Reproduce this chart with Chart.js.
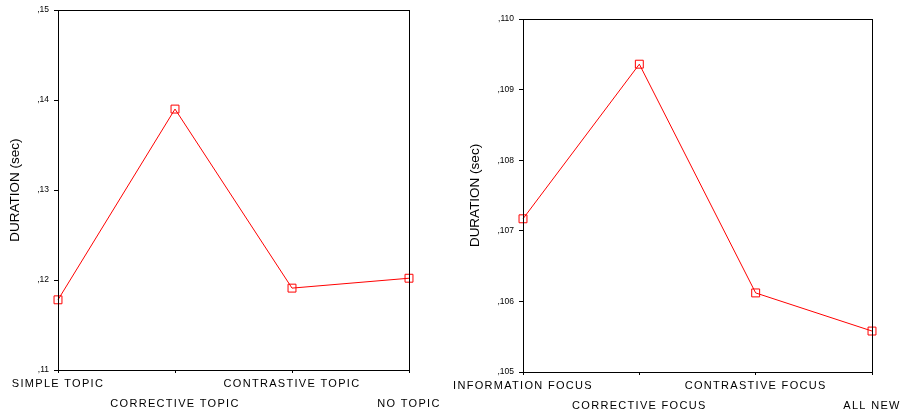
<!DOCTYPE html>
<html>
<head>
<meta charset="utf-8">
<script src="https://cdn.jsdelivr.net/npm/chart.js@4/dist/chart.umd.min.js"></script>
<style>
  html, body { margin: 0; padding: 0; background: #fff; }
  body { width: 903px; height: 417px; position: relative; overflow: hidden; }
  .panel { position: absolute; top: 0; }
</style>
</head>
<body>
<div class="panel" style="left:0px;width:450px;height:417px"><canvas id="topic" width="450" height="417"></canvas></div>
<div class="panel" style="left:450px;width:453px;height:417px"><canvas id="focus" width="453" height="417"></canvas></div>
<script>
// Topic conditions (left panel)
const topicCategories = ['SIMPLE TOPIC', 'CORRECTIVE TOPIC', 'CONTRASTIVE TOPIC', 'NO TOPIC'];
const topicDuration = [0.1178, 0.1390, 0.1191, 0.1202];
const topicTicks = { min: 0.11, max: 0.15, step: 0.01, digits: 2 };

// Focus conditions (right panel)
const focusCategories = ['INFORMATION FOCUS', 'CORRECTIVE FOCUS', 'CONTRASTIVE FOCUS', 'ALL NEW'];
const focusDuration = [0.10717, 0.10936, 0.10612, 0.10558];
const focusTicks = { min: 0.105, max: 0.110, step: 0.001, digits: 3 };

const yTitle = 'DURATION (sec)';

// Alternate category labels between two rows so long names do not collide
function staggered(labels) {
  return labels.map((l, i) => (i % 2 === 0 ? [l, ''] : ['', l]));
}

// Decimal-comma tick text without the leading zero: 0.15 -> ",15"
function commaTick(digits) {
  return v => ',' + Math.round(v * Math.pow(10, digits));
}

// Closed frame around the plotting area
const frame = {
  id: 'frame',
  afterDatasetsDraw(chart) {
    const { ctx, chartArea: a } = chart;
    ctx.save();
    ctx.strokeStyle = '#000';
    ctx.lineWidth = 1;
    ctx.strokeRect(Math.round(a.left) + 0.5, Math.round(a.top) + 0.5,
                   Math.round(a.right - a.left), Math.round(a.bottom - a.top));
    ctx.restore();
  }
};

// Wider letter spacing for the category labels only
const spacedLabels = {
  id: 'spacedLabels',
  afterLayout(chart) {
    const s = chart.scales.x;
    if (s && !s._spaced) {
      const orig = s.drawLabels.bind(s);
      s.drawLabels = function (area) {
        chart.ctx.save();
        chart.ctx.letterSpacing = '1.3px';
        orig(area);
        chart.ctx.restore();
      };
      s._spaced = true;
    }
  }
};

function makeChart(id, cats, values, t, geom) {
  return new Chart(document.getElementById(id), {
    type: 'line',
    data: {
      labels: staggered(cats),
      datasets: [{
        data: values,
        borderColor: '#ff0000',
        borderWidth: 1,
        pointStyle: 'rect',
        pointRadius: 5.6,
        pointBorderWidth: 1,
        pointBorderColor: '#ff0000',
        pointBackgroundColor: 'rgba(0,0,0,0)',
        pointHoverRadius: 5.6,
        tension: 0,
        clip: false
      }]
    },
    options: {
      responsive: false,
      animation: false,
      devicePixelRatio: 1,
      events: [],
      layout: { padding: { top: geom.top, right: geom.right, left: 0, bottom: 0 } },
      plugins: { legend: { display: false }, tooltip: { enabled: false } },
      scales: {
        x: {
          type: 'category',
          offset: false,
          afterFit: s => { s.height = geom.xHeight; },
          grid: { display: true, drawOnChartArea: false, drawTicks: true, tickLength: 3, color: '#000' },
          border: { display: true, color: '#000', width: 1 },
          ticks: {
            autoSkip: false,
            maxRotation: 0,
            minRotation: 0,
            padding: 1,
            color: '#000',
            font: { family: "'Liberation Sans', Arial, sans-serif", size: 11, lineHeight: '20px' }
          }
        },
        y: {
          min: t.min,
          max: t.max,
          afterFit: s => { s.width = geom.yWidth; },
          grid: { display: true, drawOnChartArea: false, drawTicks: true, tickLength: 4, color: '#000' },
          border: { display: true, color: '#000', width: 1 },
          ticks: {
            stepSize: t.step,
            padding: 5,
            color: '#000',
            font: { family: "'Liberation Sans', Arial, sans-serif", size: 8.5 },
            callback: commaTick(t.digits)
          },
          title: {
            display: true,
            text: yTitle,
            color: '#000',
            padding: { top: geom.titlePad, bottom: 0 },
            font: { family: "'Liberation Sans', Arial, sans-serif", size: 13.5 }
          }
        }
      }
    },
    plugins: [frame, spacedLabels]
  });
}

makeChart('topic', topicCategories, topicDuration, topicTicks,
  { top: 10, right: 41, xHeight: 47, yWidth: 58, titlePad: 7 });
makeChart('focus', focusCategories, focusDuration, focusTicks,
  { top: 19, right: 31, xHeight: 45, yWidth: 73, titlePad: 17 });
</script>
</body>
</html>
